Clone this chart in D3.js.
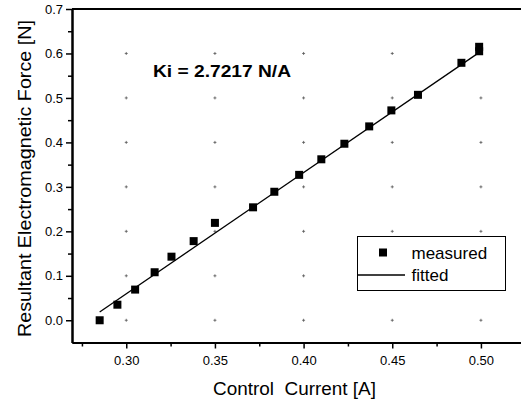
<!DOCTYPE html>
<html>
<head>
<meta charset="utf-8">
<script src="https://cdn.jsdelivr.net/npm/d3@7"></script>
<style>
  html, body { margin: 0; padding: 0; background: #fff; }
  svg { display: block; font-family: "Liberation Sans", Arial, sans-serif; }
</style>
</head>
<body>
<svg id="chart" width="521" height="403"></svg>
<script>
// ---- data ----
const currentA = [0.285, 0.295, 0.305, 0.316, 0.3255, 0.338, 0.350, 0.3715, 0.3835, 0.3975,
                  0.410, 0.423, 0.437, 0.4495, 0.4645, 0.489, 0.499, 0.499];
const forceN   = [0.000, 0.035, 0.069, 0.108, 0.143, 0.178, 0.219, 0.254, 0.289, 0.327,
                  0.362, 0.397, 0.436, 0.472, 0.507, 0.579, 0.605, 0.615];
const fitCurrentA = [0.285, 0.4995];
const fitForceN   = [0.0187, 0.6035];
const xTicks = [0.30, 0.35, 0.40, 0.45, 0.50];
const xMinorTicks = [0.275, 0.325, 0.375, 0.425, 0.475];
const yTicks = [0.0, 0.1, 0.2, 0.3, 0.4, 0.5, 0.6, 0.7];
const yMinorTicks = [0.05, 0.15, 0.25, 0.35, 0.45, 0.55, 0.65];
const gridX = [0.30, 0.35, 0.40, 0.45, 0.50];
const gridY = [0.0, 0.1, 0.2, 0.3, 0.4, 0.5, 0.6];
const annotation = "Ki = 2.7217 N/A";
const xTitle = "Control\u00a0 Current [A]";
const yTitle = "Resultant Electromagnetic Force [N]";
const legendLabels = ["measured", "fitted"];

// ---- layout ----
const svg = d3.select("#chart");
const mLeft = 72, mRight = 521, mTop = 9, mBottom = 342.5;

const x = d3.scaleLinear().domain([0.2694, 0.5226]).range([mLeft, mRight]);
const y = d3.scaleLinear().domain([-0.05, 0.7]).range([mBottom, mTop]);

// grid crosses at major tick intersections
const gridG = svg.append("g").attr("stroke", "#555").attr("stroke-width", 0.8);
gridX.forEach(gx => gridY.forEach(gy => {
  const px = x(gx), py = y(gy);
  gridG.append("line").attr("x1", px - 1.5).attr("x2", px + 1.5).attr("y1", py).attr("y2", py);
  gridG.append("line").attr("x1", px).attr("x2", px).attr("y1", py - 1.5).attr("y2", py + 1.5);
}));

// axes
const xAxis = svg.append("g").attr("transform", `translate(0,${mBottom})`)
  .call(d3.axisBottom(x).tickValues(xTicks).tickFormat(d3.format(".2f")).tickSize(6).tickPadding(7).tickSizeOuter(0));
const xMinor = svg.append("g").attr("transform", `translate(0,${mBottom})`)
  .call(d3.axisBottom(x).tickValues(xMinorTicks).tickFormat("").tickSize(4).tickSizeOuter(0));
const yAxis = svg.append("g").attr("transform", `translate(${mLeft},0)`)
  .call(d3.axisLeft(y).tickValues(yTicks).tickFormat(d3.format(".1f")).tickSize(6).tickPadding(3).tickSizeOuter(0));
const yMinor = svg.append("g").attr("transform", `translate(${mLeft},0)`)
  .call(d3.axisLeft(y).tickValues(yMinorTicks).tickFormat("").tickSize(4).tickSizeOuter(0));

[xAxis, xMinor, yAxis, yMinor].forEach(g => {
  g.selectAll("path.domain").attr("stroke", "#000").attr("stroke-width", 2);
  g.selectAll(".tick line").attr("stroke", "#000").attr("stroke-width", 1.5);
  g.selectAll("text").attr("fill", "#000").attr("font-size", 13)
    .attr("font-family", "'Liberation Sans', Arial, sans-serif");
});

// top frame line
svg.append("line").attr("x1", mLeft).attr("x2", mRight).attr("y1", y(0.7)).attr("y2", y(0.7))
  .attr("stroke", "#000").attr("stroke-width", 2);

// fitted line
const line = d3.line().x(d => x(d[0])).y(d => y(d[1]));
svg.append("path")
  .datum(fitCurrentA.map((c, i) => [c, fitForceN[i]]))
  .attr("d", line).attr("fill", "none").attr("stroke", "#000").attr("stroke-width", 1.3);

// measured points
const ms = 8;
svg.append("g").selectAll("rect")
  .data(currentA.map((c, i) => [c, forceN[i]]))
  .join("rect")
  .attr("x", d => x(d[0]) - ms / 2).attr("y", d => y(d[1]) - ms / 2)
  .attr("width", ms).attr("height", ms).attr("fill", "#000");

// annotation
svg.append("text").attr("x", 153).attr("y", 77)
  .attr("font-size", 16.5).attr("font-weight", "bold")
  .attr("textLength", 138).attr("lengthAdjust", "spacingAndGlyphs")
  .text(annotation);

// axis titles
svg.append("text").attr("x", 213).attr("y", 394.5)
  .attr("font-size", 17.5).attr("textLength", 163).attr("lengthAdjust", "spacingAndGlyphs")
  .text(xTitle);
svg.append("text").attr("transform", "translate(31,337) rotate(-90)")
  .attr("font-size", 17.5).attr("textLength", 317).attr("lengthAdjust", "spacingAndGlyphs")
  .text(yTitle);

// legend
const lg = svg.append("g");
lg.append("rect").attr("x", 357.5).attr("y", 236.5).attr("width", 148).attr("height", 54)
  .attr("fill", "#fff").attr("stroke", "#000").attr("stroke-width", 1);
lg.append("rect").attr("x", 383 - ms / 2).attr("y", 252.5 - ms / 2).attr("width", ms).attr("height", ms).attr("fill", "#000");
lg.append("text").attr("x", 411.5).attr("y", 258.5).attr("font-size", 17).text(legendLabels[0]);
lg.append("line").attr("x1", 358).attr("x2", 405).attr("y1", 275).attr("y2", 275)
  .attr("stroke", "#000").attr("stroke-width", 1.3);
lg.append("text").attr("x", 411.5).attr("y", 281).attr("font-size", 17).text(legendLabels[1]);
</script>
</body>
</html>
